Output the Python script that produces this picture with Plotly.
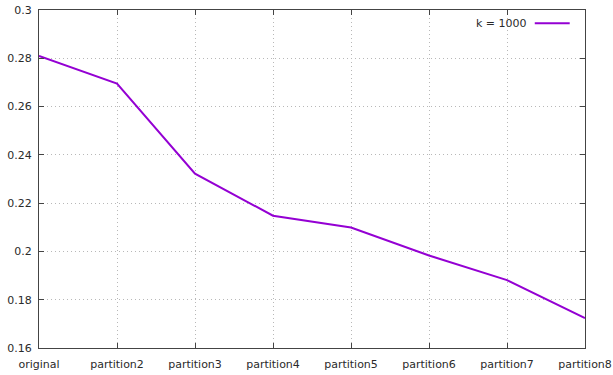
import plotly.graph_objects as go

categories = ["original", "partition2", "partition3", "partition4",
              "partition5", "partition6", "partition7", "partition8"]
values_k1000 = [0.281, 0.2695, 0.2322, 0.2148, 0.2099, 0.1983, 0.1881, 0.1724]
y_ticks = [0.16, 0.18, 0.2, 0.22, 0.24, 0.26, 0.28, 0.3]
y_tick_labels = ["0.16", "0.18", "0.2", "0.22", "0.24", "0.26", "0.28", "0.3"]
series_name = "k = 1000"

line_color = "#9400D3"
font = dict(family="DejaVu Sans", size=11, color="#2a2a2a")

fig = go.Figure()
fig.add_trace(go.Scatter(
    x=categories, y=values_k1000, mode="lines", name=series_name,
    line=dict(color=line_color, width=2), showlegend=False,
))

axis_common = dict(
    showline=True, linecolor="#444444", linewidth=1, mirror="ticks",
    ticks="inside", ticklen=5, tickcolor="#444444",
    showgrid=True, gridcolor="#b8b8b8", griddash="1px,3px", gridwidth=1,
    zeroline=False, tickfont=font, automargin=False,
)

fig.update_xaxes(type="category", categoryorder="array", categoryarray=categories,
                 range=[0, len(categories) - 1], ticklabelstandoff=6, **axis_common)
fig.update_yaxes(range=[0.16, 0.3], tickvals=y_ticks, ticktext=y_tick_labels,
                 ticklabelstandoff=4, **axis_common)

# gnuplot-style key: text followed by line sample, at top right
fig.add_annotation(xref="paper", yref="paper", x=0.897, y=0.961,
                   text=series_name, showarrow=False, xanchor="right",
                   yanchor="middle", font=font)
fig.add_shape(type="line", xref="paper", yref="paper",
              x0=0.908, x1=0.972, y0=0.961, y1=0.961,
              line=dict(color=line_color, width=2))

fig.update_layout(
    width=613, height=375,
    margin=dict(l=39, r=28, t=10, b=27),
    paper_bgcolor="white", plot_bgcolor="white",
    font=font,
)

fig.write_html("out.html", config={"displayModeBar": False, "staticPlot": True},
               post_script="document.body.style.margin='0';document.body.style.overflow='hidden';")
